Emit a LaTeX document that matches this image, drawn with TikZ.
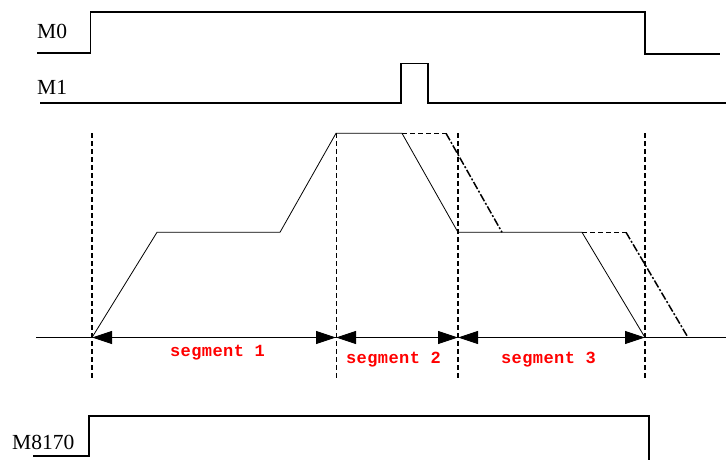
\documentclass[tikz,border=0pt]{standalone}
\usepackage{fontspec}
\setmainfont{Liberation Serif}
\newfontfamily\segfont[LetterSpace=2.5]{Liberation Mono}
\usetikzlibrary{arrows.meta}
\begin{document}
\begin{tikzpicture}[x=1pt,y=-1pt,
 sig/.style={line width=1.3pt},
 prof/.style={line width=0.8pt},
 vguide/.style={line width=1.5pt, dash pattern=on 5pt off 3pt},
 vguidethin/.style={line width=0.8pt, dash pattern=on 5pt off 3pt},
 thickdash/.style={line width=1.5pt, dash pattern=on 5pt off 3pt},
 thindash/.style={line width=0.9pt, dash pattern=on 5pt off 3pt},
 dashdotline/.style={line width=1.5pt, dash pattern=on 8pt off 2pt on 2pt off 2pt},
 dimline/.style={line width=1pt, {Triangle[length=20pt,width=13pt]}-{Triangle[length=20pt,width=13pt]}},
 siglabel/.style={font=\fontsize{21.5}{25}\selectfont, anchor=base west, inner sep=0pt},
 seglabel/.style={font=\segfont\bfseries\fontsize{17}{20}\selectfont, text=red, inner sep=0pt}
]
\useasboundingbox (0,0) rectangle (726,459);

% signal labels
\node[siglabel] (lM0) at (37,38) {M0};
\node[siglabel] (lM1) at (37,94) {M1};
\node[siglabel] (lM8170) at (12,449) {M8170};

% signals
\draw[sig] (37,53) -- (90.5,53) -- (90.5,12) -- (645,12) -- (645,54) -- (720,54);
\draw[sig] (40,103) -- (401,103) -- (401,63.5) -- (428,63.5) -- (428,103) -- (726,103);
\draw[sig] (33,456) -- (89,456) -- (89,416) -- (649,416) -- (649,460);

% key coordinates
\coordinate (a0) at (36,337.5);
\coordinate (aE) at (726,337.5);
\coordinate (t1) at (92,337.5);
\coordinate (t2) at (336,337.5);
\coordinate (t3) at (458,337.5);
\coordinate (t4) at (645,337.5);
\coordinate (p1) at (157,232.3);
\coordinate (p2) at (280,232.3);
\coordinate (p3) at (336,133.3);
\coordinate (p4) at (402,133.3);
\coordinate (p5) at (458,232.3);
\coordinate (p6) at (582,232.3);
\coordinate (q1) at (446,133.3);
\coordinate (q2) at (502,232.3);
\coordinate (q3) at (626,232.3);
\coordinate (q4) at (688,337.5);

% axis
\draw[line width=1.2pt] (a0) -- (aE);

% guides
\draw[vguide] (92,133) -- (92,380);
\draw[vguidethin] (336,133) -- (336,380);
\draw[vguide] (458,133) -- (458,380);
\draw[vguide] (645,133) -- (645,380);

% velocity profile
\draw[prof] (t1) -- (p1) -- (p2) -- (p3) -- (p4) -- (p5) -- (p6) -- (t4);
\draw[thickdash] (p4) -- (q1);
\draw[dashdotline] (q1) -- (q2);
\draw[thindash] (p6) -- (q3);
\draw[dashdotline] (q3) -- (q4);

% dimension arrows
\draw[dimline] (t1) -- (t2);
\draw[dimline] (t2) -- (t3);
\draw[dimline] (t3) -- (t4);

% segment labels
\node[seglabel] (s1) at (217.5,353) {segment 1};
\node[seglabel] (s2) at (393.5,360) {segment 2};
\node[seglabel] (s3) at (548.5,360) {segment 3};
\end{tikzpicture}
\end{document}
